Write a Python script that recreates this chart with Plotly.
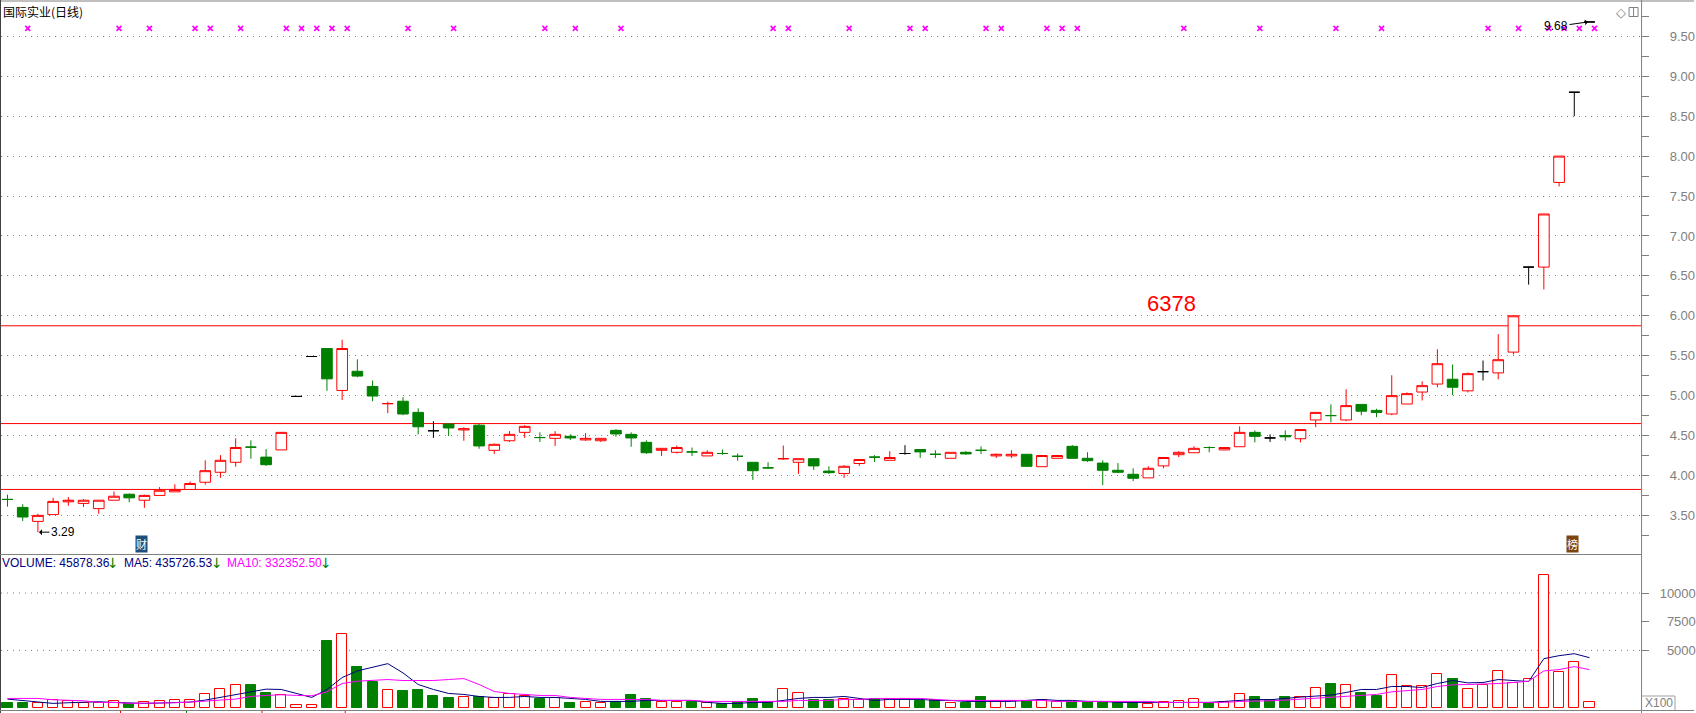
import plotly.graph_objects as go

# ---------- data ----------
kind = list(
    "ggrrrrrrgr"
    "rrrrrrggrk"
    "kgrggrggkg"
    "rgrrrgrgrr"
    "gggrrgrggg"
    "grrggrrgrk"
    "ggrggrrgrr"
    "gggggrrrrg"
    "rrgkgrrgrg"
    "grrrrgrkrr"
    "krrkk"
)

high = [3.76,3.64,3.52,3.72,3.73,3.705,3.69,3.80,3.775,3.76,
        3.855,3.89,3.925,4.19,4.255,4.465,4.44,4.33,4.54,4.99,
        5.49,5.59,5.70,5.455,5.19,4.925,4.98,4.84,4.68,4.645,
        4.605,4.645,4.40,4.555,4.63,4.54,4.555,4.515,4.53,4.465,
        4.58,4.54,4.44,4.34,4.375,4.35,4.315,4.325,4.275,4.165,
        4.165,4.375,4.21,4.21,4.115,4.13,4.20,4.255,4.305,4.38,
        4.325,4.315,4.29,4.305,4.365,4.275,4.315,4.265,4.25,4.25,
        4.38,4.29,4.19,4.155,4.09,4.115,4.225,4.305,4.365,4.365,
        4.35,4.615,4.565,4.515,4.565,4.575,4.79,4.89,5.08,4.89,
        4.835,5.255,5.04,5.18,5.58,5.39,5.29,5.44,5.77,6.00,
        6.61,7.275,8.00,8.80,9.68]
body_top = [3.70,3.60,3.50,3.675,3.69,3.69,3.69,3.74,3.765,3.75,
            3.815,3.825,3.90,4.06,4.19,4.35,4.355,4.23,4.54,4.99,
            5.49,5.59,5.59,5.305,5.115,4.90,4.93,4.79,4.56,4.645,
            4.585,4.63,4.39,4.515,4.615,4.475,4.515,4.49,4.465,4.465,
            4.565,4.515,4.415,4.34,4.35,4.295,4.29,4.275,4.24,4.165,
            4.095,4.21,4.21,4.21,4.055,4.115,4.20,4.23,4.225,4.275,
            4.325,4.265,4.29,4.29,4.315,4.265,4.265,4.265,4.25,4.25,
            4.365,4.215,4.155,4.065,4.015,4.09,4.225,4.29,4.34,4.35,
            4.35,4.54,4.54,4.47,4.50,4.575,4.79,4.75,4.875,4.89,
            4.815,5.00,5.025,5.125,5.40,5.205,5.275,5.30,5.45,6.00,
            6.61,7.275,8.00,8.80,9.68]
body_bottom = [3.70,3.48,3.425,3.51,3.67,3.65,3.585,3.69,3.72,3.69,
               3.75,3.795,3.825,3.915,4.04,4.165,4.355,4.135,4.32,4.99,
               5.49,5.21,5.065,5.245,4.995,4.90,4.77,4.61,4.56,4.595,
               4.57,4.37,4.315,4.435,4.54,4.475,4.465,4.47,4.445,4.435,
               4.52,4.47,4.285,4.315,4.29,4.295,4.245,4.275,4.24,4.06,
               4.095,4.21,4.165,4.12,4.035,4.025,4.15,4.23,4.19,4.275,
               4.295,4.265,4.215,4.27,4.315,4.245,4.245,4.115,4.11,4.215,
               4.215,4.185,4.065,4.04,3.965,3.97,4.12,4.26,4.285,4.35,
               4.32,4.36,4.49,4.47,4.485,4.46,4.695,4.75,4.695,4.805,
               4.79,4.77,4.895,5.045,5.145,5.105,5.06,5.30,5.285,5.545,
               6.61,6.61,7.67,8.80,9.68]
low = [3.61,3.43,3.29,3.51,3.62,3.605,3.52,3.69,3.665,3.595,
       3.75,3.795,3.825,3.885,3.97,4.11,4.21,4.12,4.32,4.99,
       5.49,5.06,4.945,5.23,4.93,4.78,4.755,4.515,4.47,4.495,
       4.435,4.335,4.27,4.42,4.47,4.42,4.37,4.445,4.435,4.42,
       4.485,4.36,4.27,4.245,4.275,4.245,4.245,4.26,4.185,3.945,
       4.085,4.195,4.02,4.07,4.02,3.97,4.12,4.17,4.19,4.26,
       4.22,4.22,4.215,4.26,4.27,4.22,4.22,4.105,4.11,4.215,
       4.215,4.17,3.88,4.03,3.93,3.97,4.09,4.23,4.285,4.29,
       4.32,4.36,4.415,4.42,4.435,4.415,4.605,4.665,4.68,4.755,
       4.73,4.755,4.895,4.94,5.105,5.005,5.04,5.19,5.205,5.515,
       6.39,6.33,7.62,8.50,9.68]

volume = [405,405,375,665,607,405,405,549,347,462,
          549,636,636,1156,1590,2023,1965,1272,1069,202,
          202,5780,6445,3526,2225,1503,1445,1532,1012,838,
          896,896,809,1156,983,751,838,405,462,376,
          520,1098,722,462,462,520,376,347,520,751,
          462,1590,1243,665,665,780,694,722,722,722,
          578,665,376,405,925,578,578,578,636,462,
          520,520,520,433,433,289,462,578,722,405,
          462,1156,925,636,925,925,1676,2052,2023,1272,
          1012,2890,1850,1850,2977,2485,1590,2023,3237,2196,
          2543,11560,3150,4017,462]
volume_kind = list(
    "ggrrrrrrgr"
    "rrrrrrggrr"
    "rgrggrgggg"
    "rgrrrgrgrr"
    "gggrrgrggg"
    "grrggrrgrr"
    "ggrggrrgrr"
    "gggggrrrrg"
    "rrgggrrgrg"
    "grrrrgrrrr"
    "rrrrr"
)

ma5 = [751,636,491,376,434,462,520,462,405,376,
       405,462,491,665,896,1156,1416,1618,1590,1243,
       896,1590,2630,3208,3555,3844,3035,2023,1590,1243,
       1156,983,896,896,983,896,896,809,723,549,
       549,549,636,636,636,636,462,376,376,462,
       462,636,809,896,896,983,809,636,723,723,
       723,636,636,549,549,549,549,636,723,636,
       636,549,549,462,462,462,462,462,462,462,
       549,636,723,694,838,925,1012,1098,1329,1590,
       1590,1850,1850,1763,2110,2370,2168,2196,2457,2341,
       2283,4277,4537,4711,4364]
ma10 = [809,809,809,694,636,607,462,462,376,376,
        405,434,491,607,665,751,983,1069,1127,1069,
        1040,1387,2110,2312,2399,2457,2370,2341,2370,2457,
        2543,2023,1416,1243,1156,1069,1069,896,809,723,
        723,723,723,636,636,636,549,549,549,549,
        549,549,636,636,636,723,723,809,809,809,
        809,723,636,636,636,636,636,636,636,549,
        549,549,549,549,549,549,462,462,462,462,
        462,549,549,607,665,751,838,925,1040,1098,
        1156,1387,1503,1590,1850,1994,2023,2052,2110,2196,
        2312,3208,3324,3584,3324]

level_lines = [5.875, 4.65, 3.825]
flag_idx = [1,7,9,12,13,15,18,19,20,21,22,26,29,35,37,40,50,51,55,59,60,64,65,68,69,70,77,82,87,90,97,99,101,102,103,104]
flag_value = 9.6
flag_offset = 0.33
date_ticks = [7.43, 11.77, 16.73, 22.2]
date_tick_colors = ["#ff0000", "#008000", "#ff0000", "#ff0000"]
price_ticks = [3.5,4.0,4.5,5.0,5.5,6.0,6.5,7.0,7.5,8.0,8.5,9.0,9.5]
price_tick_labels = ["3.50","4.00","4.50","5.00","5.50","6.00","6.50","7.00","7.50","8.00","8.50","9.00","9.50"]
vol_ticks = [5000, 7500, 10000]
vol_tick_labels = ["\u00a0\u00a05000", "\u00a0\u00a07500", "10000"]
vol_grid = [5000, 10000]

# ---------- styling / geometry ----------
W, H = 1696, 713
RED, GREEN, NAVY, MAG, GRAY = "#ff0000", "#008000", "#000080", "#ff00ff", "#808080"
SANS = "Liberation Sans"
CJK = "Noto Sans CJK SC"

def px(x): return x / W
def py(y): return 1 - y / H

n = len(high)
xs = list(range(n))
x_range = [-0.427, 107.39]

fig = go.Figure()
styles = {"r": (RED, "#ffffff"), "g": (GREEN, GREEN), "k": ("#000000", "#000000")}
for k, (line, fill) in styles.items():
    ids = [i for i in xs if kind[i] == k]
    side = dict(line=dict(color=line, width=1), fillcolor=fill)
    fig.add_trace(go.Candlestick(
        x=ids,
        open=[body_bottom[i] if k == "r" else body_top[i] for i in ids],
        close=[body_top[i] if k == "r" else body_bottom[i] for i in ids],
        high=[high[i] for i in ids], low=[low[i] for i in ids],
        increasing=side, decreasing=side, whiskerwidth=0,
        xaxis="x", yaxis="y", showlegend=False, hoverinfo="skip"))

fig.add_trace(go.Scatter(
    x=[i + flag_offset for i in flag_idx], y=[flag_value] * len(flag_idx), mode="markers",
    marker=dict(symbol="x-thin", size=5, line=dict(color=MAG, width=1.6)),
    xaxis="x", yaxis="y", showlegend=False, hoverinfo="skip"))

fig.add_trace(go.Bar(
    x=xs, y=volume, width=0.66,
    marker=dict(color=[GREEN if c == "g" else "#ffffff" for c in volume_kind],
                line=dict(color=[GREEN if c == "g" else RED for c in volume_kind], width=1)),
    xaxis="x2", yaxis="y2", showlegend=False, hoverinfo="skip"))
fig.add_trace(go.Scatter(x=xs, y=ma5, mode="lines", line=dict(color=NAVY, width=1),
                         xaxis="x2", yaxis="y2", showlegend=False, hoverinfo="skip"))
fig.add_trace(go.Scatter(x=xs, y=ma10, mode="lines", line=dict(color=MAG, width=1),
                         xaxis="x2", yaxis="y2", showlegend=False, hoverinfo="skip"))

shapes = []
for v in level_lines:
    shapes.append(dict(type="line", xref="x", yref="y", x0=x_range[0], x1=x_range[1], y0=v, y1=v,
                       line=dict(color=RED, width=1), layer="below"))
for v in vol_grid:
    shapes.append(dict(type="line", xref="x2", yref="y2", x0=x_range[0], x1=x_range[1], y0=v, y1=v,
                       line=dict(color=GRAY, width=1, dash="1px,5px"), layer="below"))
# panel frame
for x0, y0, x1, y1, c in [
    (0, 1, W, 1, GRAY), (0.5, 0, 0.5, H, "#404040"), (1643.5, 0, 1643.5, H, GRAY),
    (0, 554.5, 1643, 554.5, GRAY), (0, 710.5, W, 710.5, GRAY),
    (1644, 696, 1677, 696, "#a0a0a0"), (1677, 696, 1677, 710, "#a0a0a0"),
    (1631, 7.5, 1640, 7.5, GRAY), (1631, 16.5, 1640, 16.5, GRAY),
    (1631, 7.5, 1631, 16.5, GRAY), (1640, 7.5, 1640, 16.5, GRAY), (1635.5, 7.5, 1635.5, 16.5, GRAY)]:
    shapes.append(dict(type="line", xref="paper", yref="paper", x0=px(x0), x1=px(x1),
                       y0=py(y0), y1=py(y1), line=dict(color=c, width=1)))
for t, c in zip(date_ticks, date_tick_colors):
    shapes.append(dict(type="line", xref="x2", yref="paper", x0=t, x1=t, y0=py(711), y1=py(713),
                       line=dict(color=c, width=1)))

def text(x, y, s, color, size=12, family=SANS, **kw):
    return dict(xref="paper", yref="paper", x=px(x), y=py(y), text=s, showarrow=False,
                xanchor="left", yanchor="middle", font=dict(color=color, size=size, family=family), **kw)

annotations = [
    text(1, 11.5, "国际实业(日线)", "#000000", 12, CJK),
    text(0, 562.5, "VOLUME: 45878.36", NAVY, 12),
    text(105, 562.5, "↓", GREEN, 14, "DejaVu Sans"),
    text(122, 562.5, "MA5: 435726.53", NAVY, 12),
    text(209, 562.5, "↓", GREEN, 14, "DejaVu Sans"),
    text(225, 562.5, "MA10: 332352.50", MAG, 12),
    text(318, 562.5, "↓", GREEN, 14, "DejaVu Sans"),
    text(1644.5, 703, "X100", GRAY, 12),
    text(1616, 12, "◇", GRAY, 13, "DejaVu Sans"),
    dict(x=76.5, y=6.16, xref="x", yref="y", text="6378", showarrow=False,
         font=dict(color=RED, size=22, family=SANS)),
    dict(x=2.07, y=3.29, xref="x", yref="y", text="3.29", showarrow=True, arrowhead=1, arrowsize=1,
         arrowwidth=1, arrowcolor="#000000", ax=24, ay=0, standoff=0,
         font=dict(color="#000000", size=12, family=SANS)),
    dict(x=103.9, y=9.68, xref="x", yref="y", text="9.68", showarrow=True, arrowhead=1, arrowsize=1,
         arrowwidth=1, arrowcolor="#000000", ax=-32, ay=4.5, standoff=0,
         font=dict(color="#000000", size=12, family=SANS)),
    dict(x=8.8, y=3.03, xref="x", yref="y", text="财", showarrow=False, yanchor="bottom", bgcolor="#1f4e79",
         borderpad=0, font=dict(color="#ffffff", size=11, family=CJK)),
    dict(x=102.9, y=3.03, xref="x", yref="y", text="榜", showarrow=False, yanchor="bottom", bgcolor="#7a4510",
         borderpad=0, font=dict(color="#ffffff", size=11, family=CJK)),
]

xcommon = dict(range=x_range, showgrid=False, zeroline=False, showticklabels=False, ticks="",
               domain=[px(1), px(1643)], fixedrange=True, rangeslider=dict(visible=False))
tickfont = dict(color=GRAY, size=13, family=SANS)
fig.update_layout(
    width=W, height=H, margin=dict(l=0, r=0, t=0, b=0, pad=0),
    paper_bgcolor="#ffffff", plot_bgcolor="#ffffff", showlegend=False, bargap=0,
    boxgap=0.3, boxgroupgap=0,
    xaxis=dict(anchor="y", **xcommon),
    xaxis2=dict(anchor="y2", **xcommon),
    yaxis=dict(domain=[py(553), py(2)], range=[3.029, 9.93], side="right", anchor="x",
               tickvals=price_ticks, ticktext=price_tick_labels,
               ticks="outside", ticklen=7, tickcolor=GRAY, tickwidth=1, tickfont=tickfont,
               ticklabelstandoff=18,
               minor=dict(dtick=0.25, tick0=3.0, ticks="outside", ticklen=7, tickcolor=GRAY, tickwidth=1, showgrid=False),
               showgrid=True, gridcolor=GRAY, gridwidth=1, griddash="1px,5px", zeroline=False, showline=False,
               fixedrange=True),
    yaxis2=dict(domain=[py(710), py(555)], range=[-200, 13318], side="right", anchor="x2",
                tickvals=vol_ticks, ticktext=vol_tick_labels,
                ticks="outside", ticklen=7, tickcolor=GRAY, tickwidth=1, tickfont=tickfont,
                ticklabelstandoff=8, showgrid=False, zeroline=False, showline=False, fixedrange=True),
    shapes=shapes, annotations=annotations,
)

fig.write_html("out.html", config={"displayModeBar": False},
               post_script="document.body.style.margin='0';document.body.style.background='#fff';")
